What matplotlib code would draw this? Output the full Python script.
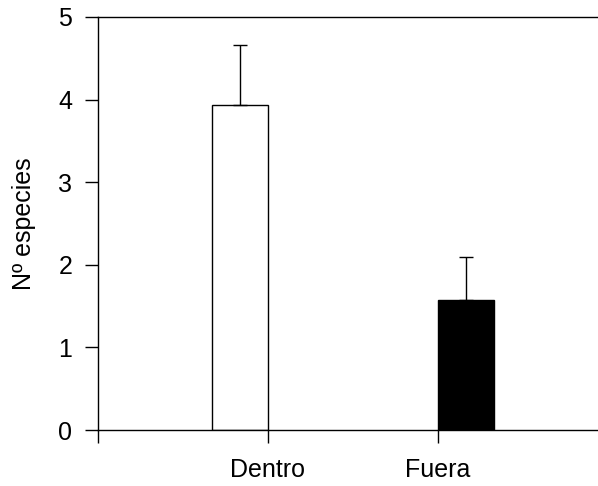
import matplotlib.pyplot as plt

# data
grupos = ['Dentro', 'Fuera']
especies = [3.94, 1.57]
error_sup = [0.72, 0.52]
colores = ['white', 'black']

plt.rcParams['font.family'] = ['Liberation Sans', 'DejaVu Sans']

fig = plt.figure(figsize=(5.98, 4.86), dpi=100)
ax = fig.add_axes([98 / 598, 1 - 430 / 486, 500 / 598, 413 / 486])

# bars sit next to the tick: first to the left, second to the right
ancho = 0.33
pos = [1 - ancho / 2, 2 + ancho / 2]
ax.bar(pos, especies, width=ancho, color=colores, edgecolor='black', linewidth=1,
       yerr=[[0, 0], error_sup], capsize=5,
       error_kw=dict(ecolor='black', elinewidth=1, capthick=1))

ax.set_xlim(0, 500 / 170)
ax.set_ylim(0, 5)
ax.set_xticks([0, 1, 2])
ax.set_xticklabels(['', grupos[0], grupos[1]])
ax.set_yticks([0, 1, 2, 3, 4, 5])
ax.tick_params(axis='y', direction='out', length=9.5, width=1, labelsize=18, pad=9)
ax.tick_params(axis='x', direction='out', length=9.5, width=1, labelsize=18, pad=11)
ax.spines['right'].set_visible(False)
for s in ['left', 'top', 'bottom']:
    ax.spines[s].set_linewidth(1)
ax.set_ylabel('Nº especies', fontsize=18, labelpad=16)

fig.savefig('out.png', dpi=100)
